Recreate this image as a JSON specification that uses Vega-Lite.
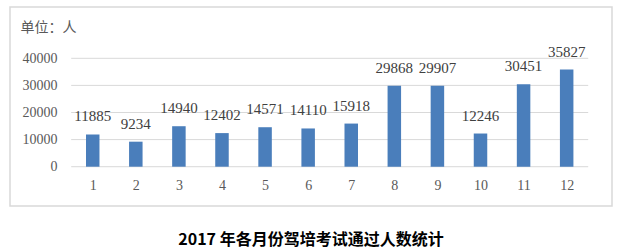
{
  "$schema": "https://vega.github.io/schema/vega-lite/v6.json",
  "autosize": {"type": "none"},
  "width": 602,
  "height": 199,
  "padding": {"left": 10, "top": 7, "right": 10, "bottom": 46},
  "background": "white",
  "title": {
    "text": "2017 年各月份驾培考试通过人数统计",
    "orient": "bottom",
    "anchor": "middle",
    "offset": 26,
    "font": "Noto Sans CJK SC",
    "fontSize": 16,
    "fontWeight": "bold",
    "color": "#000000"
  },
  "config": {
    "view": {"stroke": "#d9d9d9", "strokeWidth": 1.5}
  },
  "datasets": {
    "monthly": [
      {"month": 1, "count": 11885},
      {"month": 2, "count": 9234},
      {"month": 3, "count": 14940},
      {"month": 4, "count": 12402},
      {"month": 5, "count": 14571},
      {"month": 6, "count": 14110},
      {"month": 7, "count": 15918},
      {"month": 8, "count": 29868},
      {"month": 9, "count": 29907},
      {"month": 10, "count": 12246},
      {"month": 11, "count": 30451},
      {"month": 12, "count": 35827}
    ],
    "gridlines": [
      {"level": 0}, {"level": 10000}, {"level": 20000}, {"level": 30000}, {"level": 40000}
    ]
  },
  "layer": [
    {
      "data": {"name": "gridlines"},
      "mark": {"type": "rule", "stroke": "#d9d9d9", "strokeWidth": 1},
      "encoding": {
        "x": {"datum": 0.5, "type": "quantitative", "scale": {"domain": [-0.804, 12.936], "nice": false, "zero": false}},
        "x2": {"datum": 12.5},
        "y": {"field": "level", "type": "quantitative", "scale": {"domain": [-14500, 58930], "nice": false, "zero": false}}
      }
    },
    {
      "data": {"name": "monthly"},
      "mark": {"type": "bar", "color": "#4a7ebb", "size": 13.5},
      "encoding": {
        "x": {
          "field": "month",
          "type": "quantitative",
          "scale": {"domain": [-0.804, 12.936], "nice": false, "zero": false},
          "axis": {
            "values": [1, 2, 3, 4, 5, 6, 7, 8, 9, 10, 11, 12],
            "format": "d",
            "title": null,
            "orient": "bottom",
            "offset": -39.3,
            "domain": false,
            "ticks": false,
            "grid": false,
            "labelPadding": 12,
            "labelFont": "Liberation Serif",
            "labelFontSize": 14,
            "labelColor": "#595959",
            "labelFlush": false
          }
        },
        "y": {
          "field": "count",
          "type": "quantitative",
          "scale": {"domain": [-14500, 58930], "nice": false, "zero": false},
          "axis": {
            "values": [0, 10000, 20000, 30000, 40000],
            "format": "d",
            "orient": "left",
            "offset": -57,
            "domain": false,
            "ticks": false,
            "grid": false,
            "labelPadding": 10,
            "labelFont": "Liberation Serif",
            "labelFontSize": 14,
            "labelColor": "#595959",
            "labelFlush": false,
            "title": "单位：人",
            "titleAngle": 0,
            "titleAlign": "left",
            "titleBaseline": "middle",
            "titleX": -47,
            "titleY": 20.7,
            "titleFont": "Noto Sans CJK SC",
            "titleFontSize": 14,
            "titleFontWeight": "normal",
            "titleColor": "#595959"
          }
        }
      }
    },
    {
      "data": {"name": "monthly"},
      "mark": {
        "type": "text",
        "baseline": "alphabetic",
        "dy": -13,
        "font": "Liberation Serif",
        "fontSize": 15,
        "color": "#404040"
      },
      "encoding": {
        "x": {"field": "month", "type": "quantitative"},
        "y": {"field": "count", "type": "quantitative"},
        "text": {"field": "count", "type": "quantitative", "format": "d"}
      }
    }
  ]
}
